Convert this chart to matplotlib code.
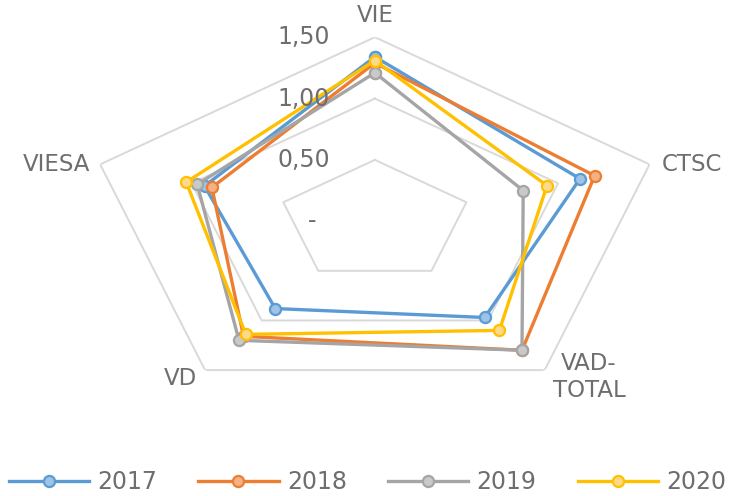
import numpy as np
import matplotlib.pyplot as plt

categories = ['VIE', 'CTSC', 'VAD-\nTOTAL', 'VD', 'VIESA']
years = ['2017', '2018', '2019', '2020']
v2017 = [1.34, 1.12, 0.97, 0.88, 0.93]
v2018 = [1.29, 1.20, 1.30, 1.16, 0.89]
v2019 = [1.21, 0.81, 1.30, 1.20, 0.97]
v2020 = [1.31, 0.94, 1.10, 1.14, 1.03]
grid_levels = [0.5, 1.0, 1.5]
tick_values = [0.0, 0.5, 1.0, 1.5]
tick_labels = ['-', '0,50', '1,00', '1,50']

colors = ['#5B9BD5', '#ED7D31', '#A5A5A5', '#FFC000']
faces = ['#9DC3E6', '#F4B183', '#C9C9C9', '#FFD98A']
text_col = '#6e6e6e'

plt.rcParams['font.family'] = 'DejaVu Sans'

fig = plt.figure(figsize=(7.35, 4.96), dpi=100)
ax = fig.add_axes([0.117, 0.183, 0.786, 0.742], projection='polar')
ax.set_aspect('auto')  # excel stretched the radar sideways
ax.set_theta_zero_location('N')
ax.set_theta_direction(-1)
ax.set_ylim(0, 1.5)
ax.grid(False)
ax.set_xticks([])
ax.set_yticks([])
ax.spines['polar'].set_visible(False)
ax.patch.set_alpha(0)

angles = np.linspace(0, 2 * np.pi, len(categories), endpoint=False)
closed = np.append(angles, angles[0])

# pentagon gridlines
for lev in grid_levels:
    ax.plot(closed, [lev] * len(closed), color='#D9D9D9', lw=1.4, zorder=1)

series = [v2017, v2018, v2019, v2020]
for vals, yr, c, fc in zip(series, years, colors, faces):
    ax.plot(closed, vals + vals[:1], color=c, lw=2.4, marker='o', ms=8,
            mfc=fc, mec=c, mew=1.6, label=yr, zorder=3)

# category labels, offset from outer vertices (pixels)
offsets = [(0, 22, 'center', 'center'),
           (12, 0, 'left', 'center'),
           (8, -7, 'left', 'center'),
           (-25, -8, 'center', 'center'),
           (-10, 0, 'right', 'center')]
for ang, lab, (dx, dy, ha, va) in zip(angles, categories, offsets):
    ax.annotate(lab, xy=(ang, 1.5), xytext=(dx, dy), textcoords='offset pixels',
                ha=ha, va=va, fontsize=16.5, color=text_col,
                multialignment='center', annotation_clip=False)

for val, lab in zip(tick_values, tick_labels):
    dx = -45 if val > 0 else -58
    ax.annotate(lab, xy=(0, val), xytext=(dx, 0), textcoords='offset pixels',
                ha='right', va='center', fontsize=17, color=text_col,
                annotation_clip=False)

fig.legend(loc='center', bbox_to_anchor=(0.5, 0.028), ncol=4, frameon=False,
           fontsize=17, handlelength=3.4, columnspacing=1.75, handletextpad=0.35,
           labelcolor=text_col)

fig.savefig('out.png', dpi=100)
